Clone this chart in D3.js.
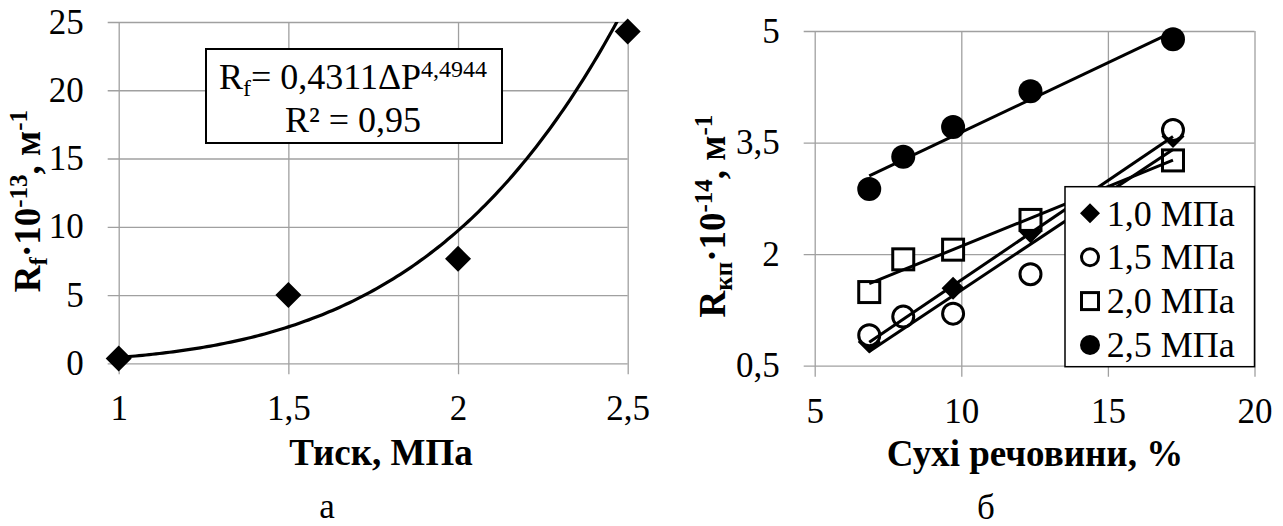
<!DOCTYPE html>
<html>
<head>
<meta charset="utf-8">
<script src="https://cdn.jsdelivr.net/npm/d3@7/dist/d3.min.js"></script>
<style>
  body { margin: 0; background: #fff; }
  svg { display: block; }
  svg text { font-family: 'Liberation Serif', Tinos, 'Times New Roman', Times, 'DejaVu Serif', serif; }
</style>
</head>
<body>
<svg id="chart" width="1283" height="526"></svg>
<script>
// chart a: resistance vs pressure
const pressure = [1, 1.5, 2, 2.5];
const resistanceF = [0.35, 5.0, 7.65, 24.3];
const fitCoef = 0.4311;
const fitExp = 4.4944;
const pressureTicks = [1, 1.5, 2, 2.5];
const resistanceTicks = [0, 5, 10, 15, 20, 25];

// chart б: resistance vs dry matter
const dryMatter = [6.86, 8.02, 9.72, 12.36, 17.22];
const series10 = [0.82, 1.14, 1.54, 2.30, 3.58];
const series15 = [0.91, 1.16, 1.20, 1.73, 3.67];
const series20 = [1.49, 1.93, 2.06, 2.46, 3.26];
const series25 = [2.875, 3.31, 3.71, 4.19, 4.89];
const seriesNames = ['1,0 МПа', '1,5 МПа', '2,0 МПа', '2,5 МПа'];
const dryTicks = [5, 10, 15, 20];
const rkpTicks = [0.5, 2, 3.5, 5];

const GRID = '#a0a0a0';
const svg = d3.select('#chart');
svg.append('rect').attr('width', 1283).attr('height', 526).attr('fill', '#fff');

const comma = d => String(d).replace('.', ',');

// gridlines + tick labels, with small outside ticks like excel
function axes(g, x, y) {
  const [l, r] = x.range();
  const [b, t] = y.range();
  g.append('g')
    .attr('transform', `translate(0,${b + 11})`)
    .call(d3.axisBottom(x).tickValues(x.ticksList).tickSize(-(b - t + 11)).tickPadding(21).tickFormat(comma))
    .call(s => s.select('.domain').remove())
    .attr('font-size', 35)
    .call(s => s.selectAll('line').attr('stroke', GRID).attr('stroke-width', 1.3))
    .call(s => s.selectAll('text').attr('fill', '#000'));
  g.append('g')
    .attr('transform', `translate(${l - 11},0)`)
    .call(d3.axisLeft(y).tickValues(y.ticksList).tickSize(-(r - l + 11)).tickPadding(24).tickFormat(comma))
    .call(s => s.select('.domain').remove())
    .attr('font-size', 35)
    .call(s => s.selectAll('line').attr('stroke', GRID).attr('stroke-width', 1.3))
    .call(s => s.selectAll('text').attr('fill', '#000'));
}

const diamond = s => `M0,${-s}L${s},0L0,${s}L${-s},0Z`;

// ---------- chart a ----------
const xA = d3.scaleLinear().domain([1, 2.5]).range([118.7, 627.7]);
const yA = d3.scaleLinear().domain([0, 25]).range([363.3, 22]);
xA.ticksList = pressureTicks;
yA.ticksList = resistanceTicks;
const gA = svg.append('g');
axes(gA, xA, yA);

svg.append('clipPath').attr('id', 'clipA')
  .append('rect').attr('x', xA(1) - 20).attr('y', yA(25))
  .attr('width', xA(2.5) - xA(1) + 40).attr('height', yA(0) - yA(25) + 20);

gA.selectAll('.pt').data(pressure).join('path')
  .attr('d', diamond(13))
  .attr('transform', (d, i) => `translate(${xA(d)},${yA(resistanceF[i])})`)
  .attr('fill', '#000');

// power trend line as given in the label
const fitPts = d3.range(1, 2.5001, 0.01).map(p => [p, fitCoef * Math.pow(p, fitExp)]);
gA.append('path')
  .attr('clip-path', 'url(#clipA)')
  .attr('d', d3.line().x(d => xA(d[0])).y(d => yA(d[1]))(fitPts))
  .attr('fill', 'none').attr('stroke', '#000').attr('stroke-width', 3.2);

// equation box
gA.append('rect').attr('x', 206).attr('y', 49).attr('width', 296).attr('height', 94)
  .attr('fill', '#fff').attr('stroke', '#000').attr('stroke-width', 2);
const eq1 = gA.append('text').attr('x', 353).attr('y', 89).attr('text-anchor', 'middle')
  .attr('font-size', 36);
eq1.append('tspan').text('R');
eq1.append('tspan').attr('font-size', 24).attr('dy', 7).text('f');
eq1.append('tspan').attr('dy', -7).text('= 0,4311ΔP');
eq1.append('tspan').attr('font-size', 24).attr('dy', -12).text('4,4944');
gA.append('text').attr('x', 353).attr('y', 132).attr('text-anchor', 'middle')
  .attr('font-size', 36).text('R² = 0,95');

// axis titles
const tA = gA.append('text').attr('transform', 'translate(40,201) rotate(-90)')
  .attr('text-anchor', 'middle').attr('font-weight', 'bold').attr('font-size', 37);
tA.append('tspan').text('R');
tA.append('tspan').attr('font-size', 25).attr('dy', 7).text('f');
tA.append('tspan').attr('dy', -7).text('·10');
tA.append('tspan').attr('font-size', 25).attr('dy', -13).text('-13');
tA.append('tspan').attr('dy', 13).text(', м');
tA.append('tspan').attr('font-size', 25).attr('dy', -13).text('-1');

gA.append('text').attr('x', 381).attr('y', 465).attr('text-anchor', 'middle')
  .attr('font-weight', 'bold').attr('font-size', 37).text('Тиск, МПа');
gA.append('text').attr('x', 327).attr('y', 518).attr('text-anchor', 'middle')
  .attr('font-size', 35).text('а');

// ---------- chart б ----------
const xB = d3.scaleLinear().domain([5, 20]).range([814.7, 1254.5]);
const yB = d3.scaleLinear().domain([0.5, 5]).range([365.7, 31]);
xB.ticksList = dryTicks;
yB.ticksList = rkpTicks;
const gB = svg.append('g');
axes(gB, xB, yB);

const allSeries = [series10, series15, series20, series25];

function marker(sel, k, size) {
  if (k === 0) {
    sel.append('path').attr('d', diamond(size)).attr('fill', '#000');
  } else if (k === 1) {
    sel.append('circle').attr('r', size - 1.5).attr('fill', '#fff').attr('stroke', '#000').attr('stroke-width', 3);
  } else if (k === 2) {
    sel.append('rect').attr('x', -(size - 1.5)).attr('y', -(size - 1.5))
      .attr('width', 2 * size - 3).attr('height', 2 * size - 3)
      .attr('fill', '#fff').attr('stroke', '#000').attr('stroke-width', 3);
  } else {
    sel.append('circle').attr('r', size).attr('fill', '#000');
  }
}

allSeries.forEach((vals, k) => {
  dryMatter.forEach((d, i) => {
    const m = gB.append('g').attr('transform', `translate(${xB(d)},${yB(vals[i])})`);
    marker(m, k, k === 0 ? 11.5 : 12);
  });
});

// linear trend lines over the markers
allSeries.forEach(vals => {
  const mx = d3.mean(dryMatter), my = d3.mean(vals);
  const sxy = d3.sum(dryMatter, (d, i) => (d - mx) * (vals[i] - my));
  const sxx = d3.sum(dryMatter, d => (d - mx) * (d - mx));
  const k = sxy / sxx, b0 = my - k * mx;
  const ends = d3.extent(dryMatter);
  gB.append('line')
    .attr('x1', xB(ends[0])).attr('y1', yB(b0 + k * ends[0]))
    .attr('x2', xB(ends[1])).attr('y2', yB(b0 + k * ends[1]))
    .attr('stroke', '#000').attr('stroke-width', 3);
});

// legend
const lg = gB.append('g');
lg.append('rect').attr('x', 1065).attr('y', 186.7).attr('width', 189.5).attr('height', 180)
  .attr('fill', '#fff').attr('stroke', '#000').attr('stroke-width', 1.5);
seriesNames.forEach((name, k) => {
  const cy = 213.3 + k * 43.9;
  marker(lg.append('g').attr('transform', `translate(1090,${cy})`), k, 10);
  lg.append('text').attr('x', 1106.7).attr('y', cy).attr('dy', '0.34em')
    .attr('font-size', 36).text(name);
});

const tB = gB.append('text').attr('transform', 'translate(725,216) rotate(-90)')
  .attr('text-anchor', 'middle').attr('font-weight', 'bold').attr('font-size', 37);
tB.append('tspan').text('R');
tB.append('tspan').attr('font-size', 25).attr('dy', 7).text('кп');
tB.append('tspan').attr('dy', -7).text('·10');
tB.append('tspan').attr('font-size', 25).attr('dy', -13).text('-14');
tB.append('tspan').attr('dy', 13).text(', м');
tB.append('tspan').attr('font-size', 25).attr('dy', -13).text('-1');

gB.append('text').attr('x', 1035).attr('y', 466).attr('text-anchor', 'middle')
  .attr('font-weight', 'bold').attr('font-size', 37).text('Сухі речовини, %');
gB.append('text').attr('x', 986).attr('y', 519).attr('text-anchor', 'middle')
  .attr('font-size', 35).text('б');
</script>
</body>
</html>
